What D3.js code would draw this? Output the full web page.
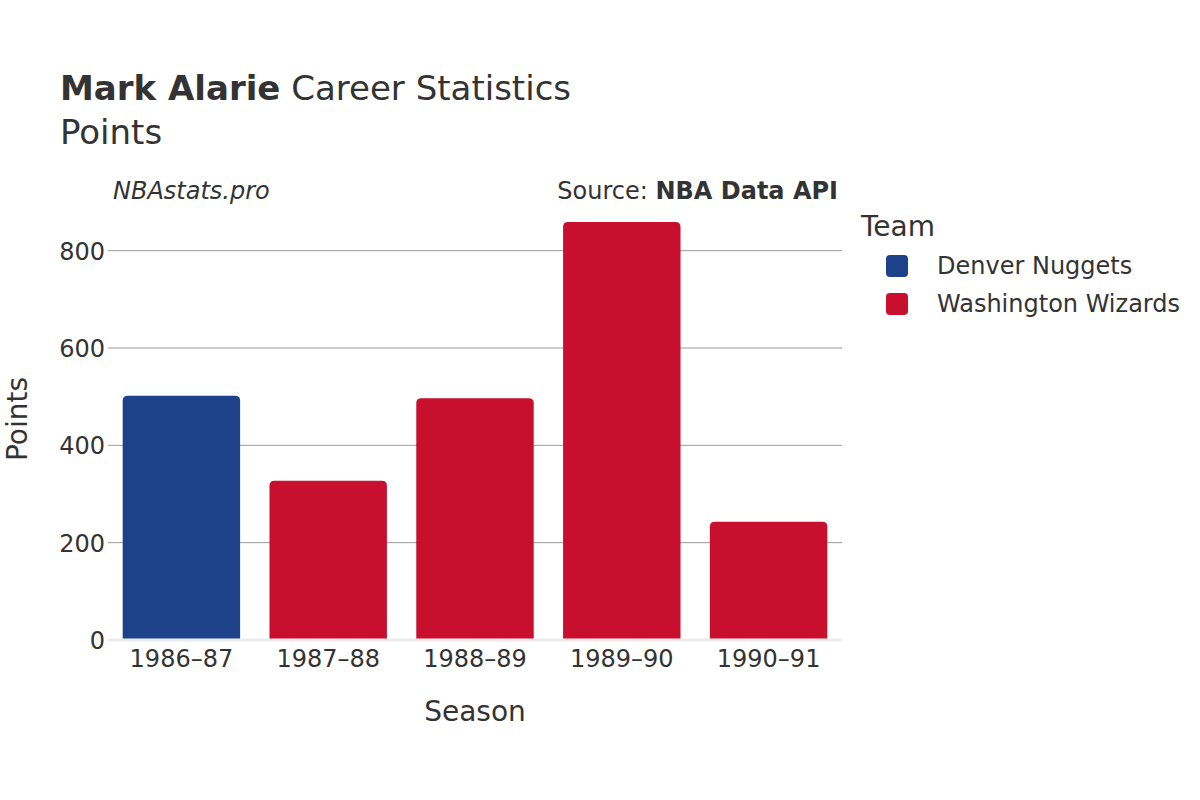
<!DOCTYPE html>
<html>
<head>
<meta charset="utf-8">
<script src="https://cdn.jsdelivr.net/npm/d3@7"></script>
<style>
  html, body { margin: 0; padding: 0; background: #fff; }
  svg { display: block; }
  text { font-family: "DejaVu Sans", sans-serif; fill: #333; }
</style>
</head>
<body>
<svg id="chart" width="1200" height="800"></svg>
<script>
const seasons = ["1986–87", "1987–88", "1988–89", "1989–90", "1990–91"];
const teams = ["Denver Nuggets", "Washington Wizards", "Washington Wizards", "Washington Wizards", "Washington Wizards"];
const points = [502, 327, 497, 859, 243];
const legendTeams = ["Denver Nuggets", "Washington Wizards"];
const teamColors = ["#1D428A", "#C8102E"];
const yTicks = [0, 200, 400, 600, 800];

const svg = d3.select("#chart");
const plot = { left: 108, right: 842, top: 202, bottom: 640 };

const x = d3.scaleBand().domain(seasons).range([plot.left, plot.right]).paddingInner(0.2).paddingOuter(0.1);
const y = d3.scaleLinear().domain([0, 900]).range([plot.bottom, plot.top]);
const color = d3.scaleOrdinal().domain(legendTeams).range(teamColors);

// gridlines
svg.append("g").selectAll("line").data(yTicks.filter(d => d > 0)).join("line")
  .attr("x1", plot.left).attr("x2", plot.right)
  .attr("y1", d => y(d)).attr("y2", d => y(d))
  .attr("stroke", "#9a9a9a").attr("stroke-width", 1);

// bars
const r = 5;
function barPath(x0, y0, w, h) {
  const rr = Math.min(r, h / 2, w / 2);
  return `M${x0},${y0 + h} V${y0 + rr} Q${x0},${y0} ${x0 + rr},${y0} H${x0 + w - rr} Q${x0 + w},${y0} ${x0 + w},${y0 + rr} V${y0 + h} Z`;
}
svg.append("g").selectAll("path").data(seasons).join("path")
  .attr("d", (s, i) => barPath(x(s), y(points[i]), x.bandwidth(), y(0) - y(points[i])))
  .attr("fill", (s, i) => color(teams[i]));

// zero line
svg.append("line")
  .attr("x1", plot.left).attr("x2", plot.right)
  .attr("y1", y(0)).attr("y2", y(0))
  .attr("stroke", "#ebebeb").attr("stroke-width", 3);

// y axis
const yAxis = d3.axisLeft(y).tickValues(yTicks).tickSize(0).tickPadding(0).tickFormat(d3.format("d"));
const ya = svg.append("g").attr("transform", `translate(${plot.left - 3},0)`).call(yAxis);
ya.select(".domain").remove();
ya.selectAll("text").attr("font-size", 24).attr("fill", "#333").attr("font-family", "DejaVu Sans").attr("dy", "0.35em");

// x axis
const xAxis = d3.axisBottom(x).tickSize(0).tickPadding(0);
const xa = svg.append("g").attr("transform", `translate(0,${plot.bottom + 7})`).call(xAxis);
xa.select(".domain").remove();
xa.selectAll("text").attr("font-size", 24).attr("fill", "#333").attr("font-family", "DejaVu Sans").attr("dy", "0.85em");

// titles
const title = svg.append("text").attr("x", 60).attr("y", 100).attr("font-size", 34);
title.append("tspan").attr("font-weight", "bold").text("Mark Alarie");
title.append("tspan").text(" Career Statistics");
svg.append("text").attr("x", 60).attr("y", 144).attr("font-size", 34).text("Points");

svg.append("text").attr("x", 113).attr("y", 199).attr("font-size", 24).attr("font-style", "italic").text("NBAstats.pro");
const src = svg.append("text").attr("x", 838).attr("y", 199).attr("font-size", 24).attr("text-anchor", "end");
src.append("tspan").text("Source: ");
src.append("tspan").attr("font-weight", "bold").text("NBA Data API");

// axis titles
svg.append("text").attr("x", (plot.left + plot.right) / 2).attr("y", 721).attr("font-size", 28).attr("text-anchor", "middle").text("Season");
svg.append("text").attr("transform", `translate(17,${(plot.top + plot.bottom) / 2 - 2}) rotate(-90)`).attr("font-size", 28).attr("text-anchor", "middle").attr("dy", "0.35em").text("Points");

// legend
svg.append("text").attr("x", 861).attr("y", 236).attr("font-size", 28).text("Team");
const lg = svg.append("g").selectAll("g").data(legendTeams).join("g")
  .attr("transform", (d, i) => `translate(0,${266 + i * 38})`);
lg.append("rect").attr("x", 886).attr("y", -11).attr("width", 22).attr("height", 22).attr("rx", 4)
  .attr("fill", d => color(d));
lg.append("text").attr("x", 937).attr("y", 0).attr("dy", "0.35em").attr("font-size", 24).text(d => d);
</script>
</body>
</html>
